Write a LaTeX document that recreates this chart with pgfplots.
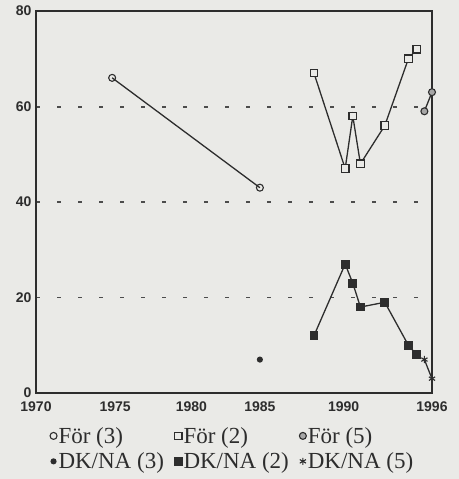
\documentclass[border=0pt]{standalone}
\usepackage{fontspec}
\setmainfont{Liberation Serif}
\newfontfamily\arialf{Liberation Sans}
\usepackage{pgfplots}
\pgfplotsset{compat=1.18}

\definecolor{bg}{RGB}{234,234,231}
\definecolor{ink}{RGB}{45,45,45}

\begin{document}
\begin{tikzpicture}
% page = 459 x 479, axis box from (36,11) to (432,393) in pixels
\fill[bg] (-36bp,-86bp) rectangle (423bp,393bp);
\useasboundingbox (-36bp,-86bp) rectangle (423bp,393bp);
\begin{axis}[
  at={(0,0)}, anchor=south west,
  scale only axis,
  width=396bp, height=382bp,
  xmin=1970, xmax=1996,
  ymin=0, ymax=80,
  clip=false,
  axis line style={ink, line width=1.3pt},
  major tick length=0pt,
  xtick={1970,1975.2,1980.2,1984.7,1990.2,1996},
  xticklabels={1970,1975,1980,1985,1990,1996},
  ytick={0,20,40,60,80},
  yticklabels={0,20,40,60,80},
  ticklabel style={font=\arialf\bfseries\fontsize{14bp}{15bp}\selectfont, text=ink},
  xticklabel style={yshift=-5bp},
  yticklabel style={xshift=-1bp},
  ymajorgrids=true,
  major grid style={gray!60!black, line width=2pt, dash pattern=on 4bp off 17bp},
  every axis plot/.append style={ink, line width=1.3pt},
  legend columns=3,
  legend style={
    at={(0.035,-0.085)}, anchor=north west,
    draw=none, fill=none,
    font=\fontsize{23bp}{26bp}\selectfont,
    text=ink,
    row sep=5bp,
    /tikz/every even column/.append style={column sep=9bp},
    inner sep=0pt,
    nodes={inner sep=1.5bp},
  },
  legend cell align=left,
  legend image code/.code={\draw plot coordinates {(0.12cm,0cm)};},
]
% For (3)
\addplot[mark=o, mark size=3.5pt, mark options={line width=1.1pt}]
  coordinates {(1975,66) (1984.7,43)};
\addlegendentry{För (3)}
% For (2)
\addplot[mark=square*, mark size=3.8pt, mark options={fill=bg, line width=1.1pt}]
  coordinates {(1988.25,67) (1990.3,47) (1990.8,58) (1991.3,48) (1992.9,56) (1994.45,70) (1995,72)};
\addlegendentry{För (2)}
% For (5)
\addplot[mark=*, mark size=3.5pt, mark options={fill=gray!70, line width=1.1pt}]
  coordinates {(1995.5,59) (1996,63)};
\addlegendentry{För (5)}
% DK/NA (3)
\addplot[mark=*, mark size=2.4pt, mark options={fill=ink}]
  coordinates {(1984.7,7)};
\addlegendentry{DK/NA (3)}
% DK/NA (2)
\addplot[mark=square*, mark size=3.8pt, mark options={fill=ink}]
  coordinates {(1988.25,12) (1990.3,27) (1990.8,23) (1991.3,18) (1992.9,19) (1994.45,10) (1995,8)};
\addlegendentry{DK/NA (2)}
% DK/NA (5)
\addplot[mark=asterisk, mark size=3.6pt, mark options={line width=1.1pt}]
  coordinates {(1995.5,7) (1996,3)};
\addlegendentry{DK/NA (5)}
\end{axis}
\end{tikzpicture}
\end{document}
